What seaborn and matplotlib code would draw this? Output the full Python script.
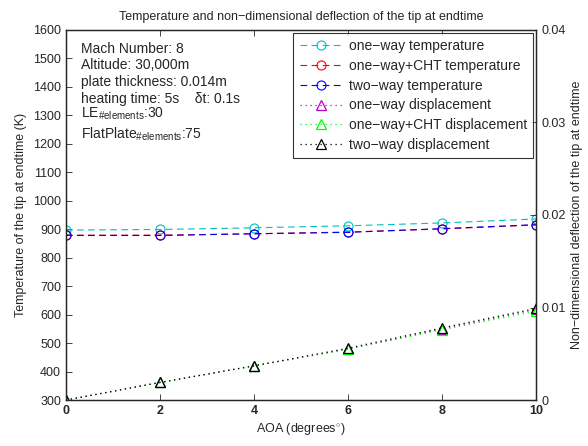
import numpy as np
import pandas as pd
import matplotlib
matplotlib.use('Agg')
import matplotlib.pyplot as plt
import seaborn as sns

sns.set_style("ticks")
plt.rcParams['font.family'] = ['Liberation Sans', 'DejaVu Sans']
plt.rcParams['mathtext.fontset'] = 'custom'
plt.rcParams['mathtext.rm'] = 'Liberation Sans'
plt.rcParams['mathtext.it'] = 'Liberation Sans'
plt.rcParams['font.size'] = 9

# Data
AOA = [0, 2, 4, 6, 8, 10]
T_ONEWAY = [897, 899, 905, 912, 922, 936]
T_ONEWAY_CHT = [879, 879, 884, 890, 901, 915]
T_TWOWAY = [878, 878, 884, 889, 902, 916]
D_ONEWAY = [0.0, 0.0019, 0.0037, 0.0055, 0.0077, 0.0098]
D_ONEWAY_CHT = [0.0, 0.0019, 0.0037, 0.0055, 0.0076, 0.0096]
D_TWOWAY = [0.0, 0.0019, 0.0037, 0.0056, 0.0078, 0.0099]

INFO_LINES = ['Mach Number: 8',
              'Altitude: 30,000m',
              'plate thickness: 0.014m',
              'heating time: 5s    \u03b4t: 0.1s',
              'LE$_{\\#\\mathrm{elements}}$:30',
              'FlatPlate$_{\\#\\mathrm{elements}}$:75']
INFO_BASELINES = [0.938, 0.895, 0.849, 0.803, 0.763, 0.705]

TEMP_SERIES = [
    ('one\u2212way temperature', T_ONEWAY, 'c'),
    ('one\u2212way+CHT temperature', T_ONEWAY_CHT, 'r'),
    ('two\u2212way temperature', T_TWOWAY, 'b'),
]
DISP_SERIES = [
    ('one\u2212way displacement', D_ONEWAY, 'm'),
    ('one\u2212way+CHT displacement', D_ONEWAY_CHT, 'lime'),
    ('two\u2212way displacement', D_TWOWAY, 'k'),
]

fig = plt.figure(figsize=(5.88, 4.46), dpi=100)
ax = fig.add_axes([0.112, 0.103, 0.800, 0.830])
ax2 = ax.twinx()

handles = []
for name, vals, col in TEMP_SERIES:
    df = pd.DataFrame({'aoa': AOA, 'val': vals})
    sns.lineplot(data=df, x='aoa', y='val', ax=ax, color=col, linestyle=(0, (6, 4)),
                 linewidth=0.8, marker='o', markersize=6.5, markerfacecolor='none',
                 markeredgecolor=col, markeredgewidth=0.8, label=name, legend=False)
    handles.append(ax.lines[-1])

for name, vals, col in DISP_SERIES:
    df = pd.DataFrame({'aoa': AOA, 'val': vals})
    sns.lineplot(data=df, x='aoa', y='val', ax=ax2, color=col, linestyle=(0, (1, 3)),
                 linewidth=0.9, marker='^', markersize=6.5, markerfacecolor='none',
                 markeredgecolor=col, markeredgewidth=0.9, label=name, legend=False)
    handles.append(ax2.lines[-1])

ax.set_xlim(0, 10)
ax.set_ylim(300, 1600)
ax.set_yticks(np.arange(300, 1601, 100))
ax.set_xticks(np.arange(0, 11, 2))
ax2.set_ylim(0, 0.04)
ax2.set_yticks([0, 0.01, 0.02, 0.03, 0.04])
ax2.set_yticklabels(['0', '0.01', '0.02', '0.03', '0.04'])

for a in (ax, ax2):
    a.tick_params(direction='in', length=4, width=0.6, labelsize=9, top=True)
    for s in a.spines.values():
        s.set_linewidth(0.9)
        s.set_visible(True)
for lbl in ax.get_xticklabels():
    lbl.set_fontweight('bold')

ax.set_xlabel('AOA (degrees$^{\\circ}$)', fontsize=9, labelpad=3)
ax.set_ylabel('Temperature of the tip at endtime (K)', fontsize=9, labelpad=4)
ax2.set_ylabel('Non\u2212dimensional deflection of the tip at endtime', fontsize=9, labelpad=4)
ax.set_title('Temperature and non\u2212dimensional deflection of the tip at endtime',
             fontsize=9, pad=7)

for line, yb in zip(INFO_LINES, INFO_BASELINES):
    ax.text(0.032, yb, line, transform=ax.transAxes, va='baseline', ha='left',
            fontsize=10)

leg = ax2.legend(handles=handles, loc='upper right', fontsize=10, frameon=True,
                 fancybox=False, edgecolor='black', handlelength=3.1,
                 borderaxespad=0.2, labelspacing=0.42, borderpad=0.45,
                 handletextpad=0.45)
leg.get_frame().set_linewidth(0.8)

fig.savefig('out.png', dpi=100)
